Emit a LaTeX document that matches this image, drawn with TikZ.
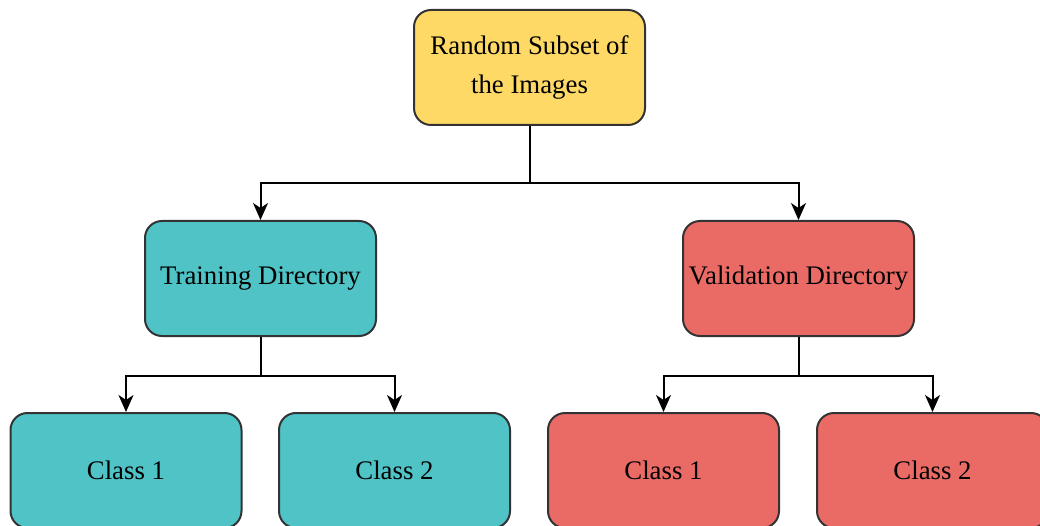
\documentclass[tikz,border=0pt]{standalone}
\usepackage{fontspec}
\setmainfont{Liberation Serif}
\usetikzlibrary{arrows.meta}
\definecolor{cyellow}{HTML}{FFD966}
\definecolor{cteal}{HTML}{4FC3C6}
\definecolor{cred}{HTML}{EA6B66}
\definecolor{cborder}{HTML}{333333}
\begin{document}
\begin{tikzpicture}[x=1pt,y=-1pt,
  box/.style={draw=cborder, line width=2pt, rounded corners=17pt,
    minimum width=231pt, minimum height=115pt, inner sep=0pt, align=center,
    font=\fontsize{26.8}{39}\selectfont, text=black},
  conn/.style={line width=2pt, draw=black},
  arr/.style={conn, -{Stealth[length=17pt,width=15pt,inset=5pt]}}]
\useasboundingbox (0,0) rectangle (1040,526);
\node[box, fill=cyellow] (top) at (529.5,67.5) {Random Subset of\\the Images};
\node[box, fill=cteal] (train) at (260.5,278.5) {Training Directory};
\node[box, fill=cred] (val) at (798.5,278.5) {Validation Directory};
\node[box, fill=cteal] (t1) at (126,470.5) {Class 1};
\node[box, fill=cteal] (t2) at (394.5,470.5) {Class 2};
\node[box, fill=cred] (v1) at (663.5,470.5) {Class 1};
\node[box, fill=cred] (v2) at (932.5,470.5) {Class 2};
\draw[conn] (top.south) -- ++(0,57) coordinate (j0);
\draw[arr] (j0) -| (train.north);
\draw[arr] (j0) -| (val.north);
\draw[conn] (train.south) -- ++(0,39) coordinate (j1);
\draw[arr] (j1) -| (t1.north);
\draw[arr] (j1) -| (t2.north);
\draw[conn] (val.south) -- ++(0,39) coordinate (j2);
\draw[arr] (j2) -| (v1.north);
\draw[arr] (j2) -| (v2.north);
\end{tikzpicture}
\end{document}
